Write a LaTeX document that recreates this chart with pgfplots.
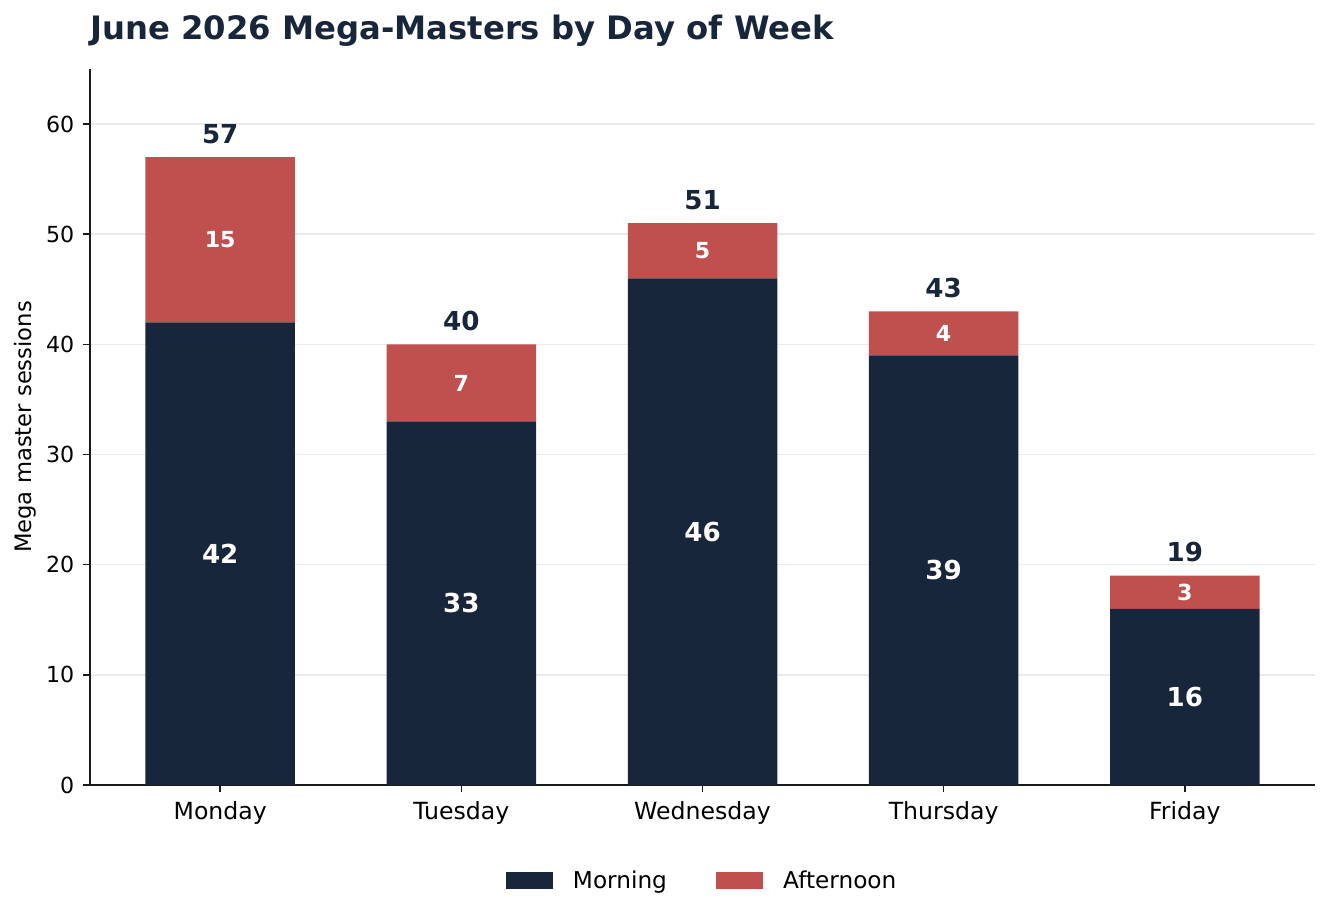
\documentclass[border=0pt]{standalone}
\usepackage{fontspec}
\setmainfont{DejaVu Sans}
\usepackage{pgfplots}
\pgfplotsset{compat=1.18}
\definecolor{navy}{HTML}{17263B}
\definecolor{brick}{HTML}{C0504D}
\definecolor{gridc}{HTML}{EBEBEB}
\definecolor{axc}{HTML}{1A1A1A}
\tikzset{
  biglab/.style={text=white, font=\bfseries\fontsize{19.6pt}{22pt}\selectfont, inner sep=0pt, anchor=center},
  smalllab/.style={text=white, font=\bfseries\fontsize{16.6pt}{19pt}\selectfont, inner sep=0pt, anchor=center},
  totlab/.style={text=navy, font=\bfseries\fontsize{19.6pt}{22pt}\selectfont, inner sep=0pt, anchor=base},
}
\begin{document}
\begin{tikzpicture}
\useasboundingbox (-67.5pt,-101.25pt) rectangle (930pt,588.75pt);
\begin{axis}[
  at={(0pt,0pt)}, anchor=south west,
  scale only axis, width=918.75pt, height=537pt,
  xmin=-0.54, xmax=4.54, ymin=0, ymax=65,
  ybar stacked, bar width=0.62,
  axis x line*=bottom, axis y line*=left,
  axis line style={line width=1.1pt, color=axc},
  tick align=outside, major tick length=5.25pt,
  tick style={line width=1.1pt, color=axc},
  xtick={0,1,2,3,4},
  xticklabels={Monday,Tuesday,Wednesday,Thursday,Friday},
  ytick={0,10,20,30,40,50,60},
  /pgf/number format/assume math mode=true,
  xticklabel style={font=\fontsize{17.7pt}{21pt}\selectfont, text=black, yshift=-4pt},
  yticklabel style={font=\fontsize{16.6pt}{20pt}\selectfont, text=black, xshift=-3pt},
  ymajorgrids, grid style={gridc, line width=1.1pt},
  legend style={at={(0.5,-0.134)}, anchor=center, draw=none, fill=none,
    font=\fontsize{17.4pt}{21pt}\selectfont,
    /tikz/every odd column/.append style={column sep=13pt},
    /tikz/every even column/.append style={column sep=35pt}},
  legend columns=2,
  legend image code/.code={\fill[#1] (0pt,-6.4pt) rectangle (35.25pt,6.4pt);},
]
\addplot[fill=navy, draw=none] coordinates {(0,42) (1,33) (2,46) (3,39) (4,16)};
\addlegendentry{Morning}
\addplot[fill=brick, draw=none] coordinates {(0,15) (1,7) (2,5) (3,4) (4,3)};
\addlegendentry{Afternoon}
\coordinate (m0) at (axis cs:0,21);
\coordinate (m1) at (axis cs:1,16.5);
\coordinate (m2) at (axis cs:2,23);
\coordinate (m3) at (axis cs:3,19.5);
\coordinate (m4) at (axis cs:4,8);
\coordinate (a0) at (axis cs:0,49.5);
\coordinate (a1) at (axis cs:1,36.5);
\coordinate (a2) at (axis cs:2,48.5);
\coordinate (a3) at (axis cs:3,41);
\coordinate (a4) at (axis cs:4,17.5);
\coordinate (t0) at (axis cs:0,58.25);
\coordinate (t1) at (axis cs:1,41.25);
\coordinate (t2) at (axis cs:2,52.25);
\coordinate (t3) at (axis cs:3,44.25);
\coordinate (t4) at (axis cs:4,20.25);
\end{axis}
\node[biglab] at (m0) {42};
\node[biglab] at (m1) {33};
\node[biglab] at (m2) {46};
\node[biglab] at (m3) {39};
\node[biglab] at (m4) {16};
\node[smalllab] at (a0) {15};
\node[smalllab] at (a1) {7};
\node[smalllab] at (a2) {5};
\node[smalllab] at (a3) {4};
\node[smalllab] at (a4) {3};
\node[totlab] at (t0) {57};
\node[totlab] at (t1) {40};
\node[totlab] at (t2) {51};
\node[totlab] at (t3) {43};
\node[totlab] at (t4) {19};
\node[anchor=base west, inner sep=0pt, text=navy, font=\bfseries\fontsize{24.2pt}{28pt}\selectfont] at (0pt,558.75pt) {June 2026 Mega-Masters by Day of Week};
\node[rotate=90, anchor=base, inner sep=0pt, font=\fontsize{17pt}{21pt}\selectfont] at (-43.5pt,268.5pt) {Mega master sessions};
\end{tikzpicture}
\end{document}
